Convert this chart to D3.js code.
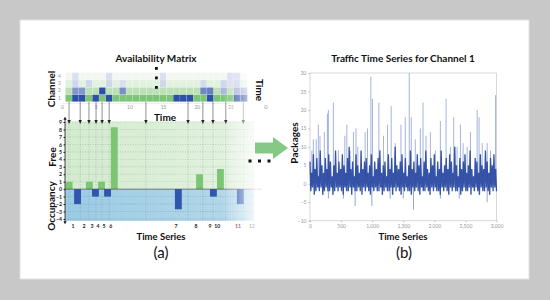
<!DOCTYPE html>
<html><head><meta charset="utf-8">
<script src="https://cdn.jsdelivr.net/npm/d3@7"></script>
<style>
html,body{margin:0;padding:0;background:#c8c8c8;}
svg{display:block;}
text{font-family:Lato,"Open Sans",sans-serif;}
</style></head><body>
<svg id="c" width="550" height="300"></svg>
<script>
// ---------- data ----------
const timeTicks = [0,5,10,15,20,25,30];
const channels = [4,3,2,1];
const channel1 = [0,1,1,0,1,0,1,0,0,0,0,0,0,0,0,0,1,1,1,0,0,1,0,0,0,1,1];
const channel2 = [0,.55,.55,0,0,1,0,0,.6,0,0,0,0,0,0,0,0,0,0,0,.65,.7,0,.35,0,.4,.4];
const channel3 = [0,.15,0,.15,0,0,.15,0,.1,0,0,0,0,0,.14,0,0,0,0,0,.12,0,0,.15,.12,.18,0];
const channel4 = [0,.1,0,0,0,0,.1,0,0,0,0,0,0,0,.09,0,0,0,0,0,0,0,0,0,.12,.14,0];
const arrowTimes = [1.05,2.7,4.0,5.05,5.95,7.0,12.45,18.7,20.9,22.4,24.3,26.9];

const seriesLabels = ["1","2","3","4","5","6","7","8","9","10","11","12"];
const seriesTickTime = [1.65,3.25,4.45,5.35,6.25,7.25,16.9,19.9,21.95,23.05,26.1,28.2];
const runStart = [0.55,1.8,3.55,4.45,5.35,6.25,7.25,16.75,19.9,21.95,23.0,25.95];
const runValue = [1,-2,1,-1,1,-1,8.3,-2.7,2,-1,2.7,-2];
const freeTicks = [-4,-3,-2,-1,0,1,2,3,4,5,6,7,8,9];

const trafficXTicks = [0,500,1000,1500,2000,2500,3000];
const trafficYTicks = [-10,-5,0,5,10,15,20,25,30];
const trafficHigh = [6,3,8,4,7,2,9,5,3,7, 4,8,6,2,5,9,3,6,4,8, 5,3,7,10,4,6,2,8,5,3,
  9,4,6,7,3,5,8,2,6,4, 7,9,3,5,6,2,8,4,7,3, 10,5,4,6,8,3,7,2,5,9, 4,6,3,8,5,7,2,6,9,4,
  3,7,5,8,2,6,4,9,3,5, 7,4,8,6,3,10,5,2,7,4, 6,8,3,5,9,4,2,7,6,3, 8,5,4,9,6,3,7,5,8,4];
const trafficLow = [-2,-1,-3,-2,-1,-2,-1,-3,-2,-1, -2,-2,-1,-3,-2,-1,-2,-1,-2,-3, -1,-2,-2,-1,-3,-1,-2,-2,-1,-2,
  -3,-1,-2,-1,-2,-3,-1,-2,-1,-2, -2,-1,-3,-2,-1,-2,-2,-1,-3,-1, -2,-1,-2,-3,-1,-2,-1,-2,-2,-3, -1,-2,-1,-2,-3,-1,-2,-2,-1,-2,
  -3,-1,-2,-1,-2,-2,-3,-1,-2,-1, -2,-3,-1,-2,-1,-2,-2,-1,-3,-2, -1,-2,-2,-1,-3,-1,-2,-1,-2,-3, -1,-2,-2,-1,-2,-3,-1,-2,-1,-2];
const spikeTime = [30,54,100,134,161,231,280,296,376,457,560,592,645,699,740,769,887,925,979,1005,1108,1183,1247,1306,1371,
  1463,1532,1597,1629,1694,1775,1818,1866,1936,2017,2097,2189,2258,2312,2366,2420,2463,2527,2581,2689,2720,2770,2850,2904,2985];
const spikeValue = [9,12,12,16,13,14,19,20,22,9,13,16,9,14,15,10,14,15,29,23,22,13,16,21,11,
  16,18,30,18,12,15,22,13,14,9,17,23,10,18,10,16,11,10,14,20,18,11,11,9,24];
const dipTime = [296,538,726,995,1290,1500,1665,2097,2400,2850];
const dipValue = [-4,-4,-6,-6,-4,-4,-7,-4,-4,-5];

// ---------- drawing ----------
const svg = d3.select("#c");
const defs = svg.append("defs");
svg.append("rect").attr("width",550).attr("height",300).attr("fill","#c8c8c8");
svg.append("rect").attr("x",20).attr("y",20).attr("width",509).attr("height",259)
  .attr("fill","#fff").attr("stroke","#e2e2e2").attr("stroke-width",1);

// --- heatmap ---
const xT = d3.scaleLinear().domain([0,25]).range([62,230.5]);
const yRow = d3.scaleBand().domain(channels).range([72.7,101.7]);
const freeColor = {1:"#7cc576",2:"#bde1b7",3:"#e3f2e0",4:"#f2f8f1"};
const occ = d3.interpolateRgb("#eceef8","#2c4fa7");
const rows = [[1,channel1],[2,channel2],[3,channel3],[4,channel4]];
const gH = svg.append("g");
rows.forEach(([ch,vals])=>{
  gH.selectAll(null).data(vals).join("rect")
    .attr("x",(d,i)=>xT(i+0.5)).attr("y",yRow(ch))
    .attr("width",xT(1)-xT(0)).attr("height",yRow.bandwidth())
    .attr("fill",d=> d>0 ? occ(d) : freeColor[ch])
    .attr("stroke","#fff").attr("stroke-opacity",0.35).attr("stroke-width",0.4);
});
// heatmap axes
const axT = svg.append("g").attr("transform","translate(0,103)")
  .call(d3.axisBottom(xT).tickValues(timeTicks).tickSize(0).tickPadding(2));
axT.select(".domain").attr("stroke","#ddd").attr("stroke-width",0.5);
axT.selectAll("text").attr("font-size",5).attr("fill","#999");
const axR = svg.append("g").attr("transform","translate(63,0)")
  .call(d3.axisLeft(yRow).tickSize(0).tickPadding(2));
axR.select(".domain").remove();
axR.selectAll("text").attr("font-size",5).attr("fill","#999");

// --- bottom chart ---
const yB = d3.scaleLinear().domain([-4,9]).range([219,122]);
const gradG = defs.append("linearGradient").attr("id","gg");
gradG.append("stop").attr("offset",0).attr("stop-color","#d3ebcf");
gradG.append("stop").attr("offset",1).attr("stop-color","#e4f2e1");
const gradB = defs.append("linearGradient").attr("id","gb");
gradB.append("stop").attr("offset",0).attr("stop-color","#9ccbe4");
gradB.append("stop").attr("offset",1).attr("stop-color","#b7d9ea");
svg.append("rect").attr("x",xT(0.45)).attr("y",yB(9.05)).attr("width",xT(28.5)-xT(0.45))
  .attr("height",yB(0)-yB(9.05)).attr("fill","url(#gg)");
svg.append("rect").attr("x",xT(0.45)).attr("y",yB(0)).attr("width",xT(28.5)-xT(0.45))
  .attr("height",yB(-4.25)-yB(0)).attr("fill","url(#gb)");
// grid
svg.append("g").selectAll("line").data(freeTicks).join("line")
  .attr("x1",xT(0.45)).attr("x2",xT(28.5)).attr("y1",d=>yB(d)).attr("y2",d=>yB(d))
  .attr("stroke",d=>d<0?"#3f7fb0":"#7a9a7a").attr("stroke-width",0.5).attr("stroke-dasharray","1,1.5")
  .attr("opacity",d=>d===0?0:0.7);
svg.append("g").selectAll("line").data(arrowTimes).join("line")
  .attr("x1",d=>xT(d)).attr("x2",d=>xT(d)).attr("y1",yB(9.05)).attr("y2",yB(-4.25))
  .attr("stroke","#6a8a8a").attr("stroke-width",0.5).attr("stroke-dasharray","1,1.5").attr("opacity",0.7);
// bars
svg.append("g").selectAll("rect").data(runValue).join("rect")
  .attr("x",(d,i)=>xT(runStart[i])).attr("width",xT(1.02)-xT(0))
  .attr("y",d=>d>0?yB(d):yB(0)).attr("height",d=>Math.abs(yB(d)-yB(0)))
  .attr("fill",d=>d>0?"#7cc673":"#2f57ad");
// axes
svg.append("line").attr("x1",xT(0.45)).attr("x2",xT(29.3)).attr("y1",yB(0)).attr("y2",yB(0))
  .attr("stroke","#333").attr("stroke-width",0.6);
svg.append("path").attr("d",`M${xT(29.3)},${yB(0)-1.5}L${xT(29.3)+3},${yB(0)}L${xT(29.3)},${yB(0)+1.5}Z`).attr("fill","#333");
const axY = svg.append("g").attr("transform",`translate(${xT(0.45)},0)`)
  .call(d3.axisLeft(yB).tickValues(freeTicks).tickSize(1.5).tickPadding(1.5));
axY.select(".domain").attr("d",`M0,${yB(9.45)}V${yB(-4.4)}`).attr("stroke","#111").attr("stroke-width",0.8);
axY.selectAll(".tick line").attr("stroke","#111");
axY.selectAll("text").attr("font-size",5.2).attr("font-weight",700).attr("fill","#222");
svg.append("path").attr("d",`M${xT(0.45)-1.6},${yB(9.3)}L${xT(0.45)},${yB(9.3)-3}L${xT(0.45)+1.6},${yB(9.3)}Z`).attr("fill","#111");
svg.append("path").attr("d",`M${xT(0.45)-1.6},${yB(-4.3)}L${xT(0.45)},${yB(-4.3)+3}L${xT(0.45)+1.6},${yB(-4.3)}Z`).attr("fill","#111");
// series labels
svg.append("g").selectAll("text").data(seriesLabels).join("text")
  .attr("x",(d,i)=>xT(seriesTickTime[i])).attr("y",228).attr("text-anchor","middle")
  .attr("font-size",5.2).attr("font-weight",700).attr("fill","#222").text(d=>d);
// arrows from heatmap
const gA = svg.append("g");
gA.selectAll("line").data(arrowTimes).join("line")
  .attr("x1",d=>xT(d)).attr("x2",d=>xT(d)).attr("y1",102).attr("y2",122)
  .attr("stroke","#444").attr("stroke-width",0.6);
gA.selectAll("path").data(arrowTimes).join("path")
  .attr("d",d=>`M${xT(d)-1.7},120L${xT(d)+1.7},120L${xT(d)},124Z`).attr("fill","#222");

// fade overlay on right of panel (a)
const gradF = defs.append("linearGradient").attr("id","gf");
gradF.append("stop").attr("offset",0).attr("stop-color","#fff").attr("stop-opacity",0);
gradF.append("stop").attr("offset",1).attr("stop-color","#fff").attr("stop-opacity",1);
svg.append("rect").attr("x",222).attr("y",66).attr("width",42).attr("height",168).attr("fill","url(#gf)");

// vertical dots
svg.append("g").selectAll("rect").data([0,1,2]).join("rect")
  .attr("x",155).attr("y",d=>67+d*9.5).attr("width",2.8).attr("height",2.8).attr("fill","#111");
// horizontal dots
svg.append("g").selectAll("rect").data([0,1,2]).join("rect")
  .attr("x",d=>248.5+d*9.5).attr("y",159.5).attr("width",3).attr("height",3).attr("fill","#111");
// big green arrow
svg.append("path").attr("d","M255,142.5L273,142.5L273,137L288,148L273,159L273,153.5L255,153.5Z").attr("fill","#86c984");

// labels
function label(x,y,t,opt={}){
  const el = svg.append("text").attr("x",x).attr("y",y).attr("text-anchor","middle")
    .attr("font-size",opt.size||10).attr("font-weight",opt.weight||700).attr("fill","#111").text(t);
  if(opt.rot) el.attr("transform",`rotate(${opt.rot},${x},${y})`).attr("dominant-baseline","central");
  if(opt.family) el.attr("font-family",opt.family);
  return el;
}
label(156,62,"Availability Matrix");
label(51,89,"Channel",{rot:-90});
label(260,90,"Time",{rot:90});
label(165,121,"Time");
label(52,157,"Free",{rot:-90});
label(51,206,"Occupancy",{rot:-90});
label(161,240,"Time Series",{size:9.5});
label(161,258,"(a)",{size:15,weight:400,family:"Liberation Sans, Arial, sans-serif"});

// --- panel (b) ---
const xP = d3.scaleLinear().domain([0,3000]).range([310,496.5]);
const yP = d3.scaleLinear().domain([-10,30]).range([220.7,73]);
const gP = svg.append("g");
gP.append("rect").attr("x",xP(0)).attr("y",yP(30)).attr("width",xP(3000)-xP(0)).attr("height",yP(-10)-yP(30))
  .attr("fill","none").attr("stroke","#cfcfcf").attr("stroke-width",0.8);
// spikes
gP.append("g").selectAll("line").data(spikeValue).join("line")
  .attr("x1",(d,i)=>xP(spikeTime[i])).attr("x2",(d,i)=>xP(spikeTime[i]))
  .attr("y1",yP(0)).attr("y2",d=>yP(d)).attr("stroke","#4a69bd").attr("stroke-opacity",0.5).attr("stroke-width",1);
gP.append("g").selectAll("line").data(dipValue).join("line")
  .attr("x1",(d,i)=>xP(dipTime[i])).attr("x2",(d,i)=>xP(dipTime[i]))
  .attr("y1",yP(0)).attr("y2",d=>yP(d)).attr("stroke","#4a69bd").attr("stroke-opacity",0.6).attr("stroke-width",1);
// dense series (zigzag of high/low samples)
const pts = [];
trafficHigh.forEach((h,i)=>{ pts.push(h); pts.push(trafficLow[i]); });
const n = pts.length;
gP.append("path").datum(pts)
  .attr("d",d3.line().x((d,i)=>xP(i*3000/(n-1))).y(d=>yP(d)))
  .attr("fill","none").attr("stroke","#2a4aa2").attr("stroke-opacity",0.95).attr("stroke-width",1.3);
const axPY = gP.append("g").attr("transform",`translate(${xP(0)},0)`)
  .call(d3.axisLeft(yP).tickValues(trafficYTicks).tickSize(1.5).tickPadding(2));
axPY.select(".domain").remove();
axPY.selectAll("line").attr("stroke","#bbb");
axPY.selectAll("text").attr("font-size",5).attr("fill","#999");
const axPX = gP.append("g").attr("transform",`translate(0,${yP(-10)})`)
  .call(d3.axisBottom(xP).tickValues(trafficXTicks).tickSize(1.5).tickPadding(2));
axPX.select(".domain").remove();
axPX.selectAll("line").attr("stroke","#bbb");
axPX.selectAll("text").attr("font-size",5).attr("fill","#999");

label(403,62,"Traffic Time Series for Channel 1");
label(294,143,"Packages",{rot:-90});
label(403,240,"Time Series",{size:9.5});
label(404,258,"(b)",{size:15,weight:400,family:"Liberation Sans, Arial, sans-serif"});
</script>
</body></html>
